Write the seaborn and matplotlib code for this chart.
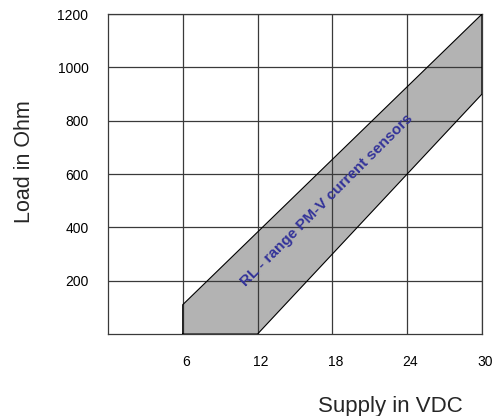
import matplotlib
matplotlib.use("Agg")
import matplotlib.pyplot as plt
import matplotlib.transforms as mtransforms
import seaborn as sns
import pandas as pd

# RL range polygon (supply in VDC, load in Ohm)
supply_v = [6, 6, 30, 30, 12, 6]
load_ohm = [0, 110, 1200, 900, 0, 0]

x_ticks = [6, 12, 18, 24, 30]
y_ticks = [200, 400, 600, 800, 1000, 1200]

sns.set_style("white")
plt.rcParams['font.family'] = ['Liberation Sans', 'DejaVu Sans']

fig = plt.figure(figsize=(5.02, 4.16), dpi=100)
ax = fig.add_axes([0.215, 0.197, 0.745, 0.769])

df = pd.DataFrame({'Supply': supply_v, 'Load': load_ohm})

# shaded band
ax.fill(df['Supply'], df['Load'], color='#b3b3b3', zorder=1, linewidth=0)
sns.lineplot(data=df, x='Supply', y='Load', sort=False, estimator=None,
             color='black', linewidth=0.8, ax=ax, zorder=3)

ax.set_xlim(0, 30)
ax.set_ylim(0, 1200)
ax.set_xticks(x_ticks)
ax.set_yticks(y_ticks)

# grid on top of the fill
ax.grid(True, color='#3a3a3a', linewidth=0.9, zorder=2)
ax.set_axisbelow(False)
for s in ax.spines.values():
    s.set_visible(True)
    s.set_color('#3a3a3a')
    s.set_linewidth(0.9)

ax.tick_params(axis='both', length=0, labelsize=10, colors='black')
ax.tick_params(axis='x', pad=15)
ax.tick_params(axis='y', pad=14)
shift = mtransforms.ScaledTranslation(3 / 100, 0, fig.dpi_scale_trans)
for lab in ax.get_xticklabels():
    lab.set_transform(lab.get_transform() + shift)

ax.set_xlabel('Supply in VDC', fontsize=16)
ax.set_ylabel('Load in Ohm', fontsize=15.5)
ax.xaxis.set_label_coords(0.754, -0.195)
ax.yaxis.set_label_coords(-0.195, 0.54)

ax.text(17.6, 502, 'RL - range PM-V current sensors', rotation=45,
        rotation_mode='anchor', ha='center', va='center',
        fontsize=11, fontweight='bold', color='#333399', zorder=4)

fig.savefig('out.png', dpi=100)
